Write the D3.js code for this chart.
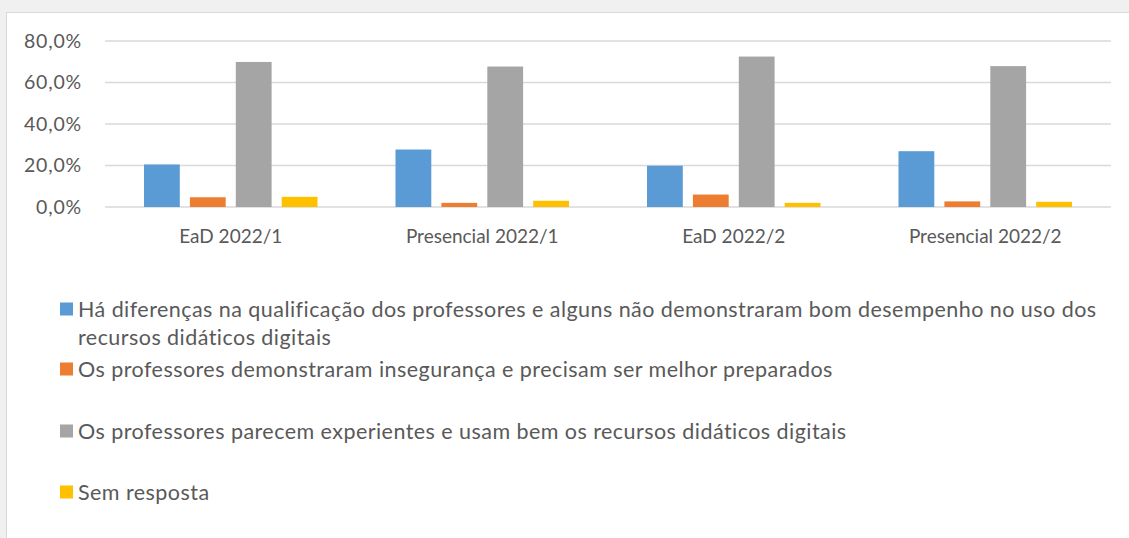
<!DOCTYPE html>
<html>
<head>
<meta charset="utf-8">
<script src="https://cdn.jsdelivr.net/npm/d3@7"></script>
<style>
  html, body { margin: 0; padding: 0; background: #f0f0f0; }
  svg { display: block; font-family: Lato, "Open Sans", sans-serif; }
</style>
</head>
<body>
<svg id="chart"></svg>
<script>
// data
const categories = ['EaD 2022/1', 'Presencial 2022/1', 'EaD 2022/2', 'Presencial 2022/2'];
const seriesNames = [
  'Há diferenças na qualificação dos professores e alguns não demonstraram bom desempenho no uso dos recursos didáticos digitais',
  'Os professores demonstraram insegurança e precisam ser melhor preparados',
  'Os professores parecem experientes e usam bem os recursos didáticos digitais',
  'Sem resposta'
];
const diferencas = [20.5, 27.7, 19.9, 26.9];
const inseguranca = [4.7, 2.0, 6.0, 2.7];
const experientes = [69.9, 67.7, 72.5, 67.9];
const semResposta = [4.9, 3.0, 2.0, 2.5];
const yTicks = [0, 20, 40, 60, 80];
const colors = ['#5b9bd5', '#ed7d31', '#a5a5a5', '#ffc000'];

const series = [diferencas, inseguranca, experientes, semResposta];

const W = 1129, H = 538;
const margin = { top: 41, left: 105, right: 18, bottom: 331 };
const plotW = W - margin.left - margin.right;
const plotH = H - margin.top - margin.bottom;

const svg = d3.select('#chart').attr('width', W).attr('height', H);

// chart box
svg.append('rect')
  .attr('x', 6.5).attr('y', 12.5)
  .attr('width', W).attr('height', H)
  .attr('fill', '#fff').attr('stroke', '#d9d9d9');

const g = svg.append('g').attr('transform', `translate(${margin.left},${margin.top})`);

const x0 = d3.scaleBand().domain(categories).range([0, plotW]).paddingInner(0).paddingOuter(0);
const x1 = d3.scaleBand().domain(d3.range(series.length))
  .range([39, x0.bandwidth() - 39]).paddingInner(0.22);
const y = d3.scaleLinear().domain([0, 80]).range([plotH, 0]);

// gridlines
g.append('g')
  .selectAll('line')
  .data(yTicks)
  .join('line')
  .attr('x1', 0).attr('x2', plotW)
  .attr('y1', d => y(d)).attr('y2', d => y(d))
  .attr('stroke', '#d9d9d9').attr('stroke-width', 1.5);

// y axis labels
const fmt = d => d.toFixed(1).replace('.', ',') + '%';
const yAxis = d3.axisLeft(y).tickValues(yTicks).tickFormat(fmt).tickSize(0).tickPadding(23);
g.append('g').call(yAxis)
  .call(a => a.select('.domain').remove())
  .selectAll('text')
  .attr('font-size', 19.5).attr('letter-spacing', 0.8)
  .attr('fill', '#595959').attr('font-family', 'Lato, sans-serif');

// bars
const groups = g.append('g').selectAll('g')
  .data(categories)
  .join('g')
  .attr('transform', d => `translate(${x0(d)},0)`);

groups.selectAll('rect')
  .data((c, ci) => series.map((s, si) => ({ si, v: s[ci] })))
  .join('rect')
  .attr('x', d => x1(d.si))
  .attr('width', x1.bandwidth())
  .attr('y', d => y(d.v))
  .attr('height', d => y(0) - y(d.v))
  .attr('fill', d => colors[d.si]);

// x axis
const xAxis = d3.axisBottom(x0).tickSize(0).tickPadding(23);
g.append('g').attr('transform', `translate(0,${plotH})`).call(xAxis)
  .call(a => a.select('.domain').remove())
  .selectAll('text')
  .attr('font-size', 19)
  .attr('fill', '#595959').attr('font-family', 'Lato, sans-serif');

// legend
const legendRows = [
  { lines: ['Há diferenças na qualificação dos professores e alguns não demonstraram bom desempenho no uso dos', 'recursos didáticos digitais'], y: 309 },
  { lines: [seriesNames[1]], y: 369 },
  { lines: [seriesNames[2]], y: 431 },
  { lines: [seriesNames[3]], y: 492 }
];
const legend = svg.append('g');
legendRows.forEach((row, i) => {
  legend.append('rect')
    .attr('x', 60).attr('y', row.y - 6.5)
    .attr('width', 13).attr('height', 13)
    .attr('fill', colors[i]);
  const t = legend.append('text')
    .attr('x', 78).attr('y', row.y)
    .attr('font-size', 21.5).attr('letter-spacing', 0.45)
    .attr('fill', '#595959');
  row.lines.forEach((ln, li) => {
    t.append('tspan').attr('x', 78).attr('dy', li === 0 ? '0.35em' : 28).text(ln);
  });
});
</script>
</body>
</html>
